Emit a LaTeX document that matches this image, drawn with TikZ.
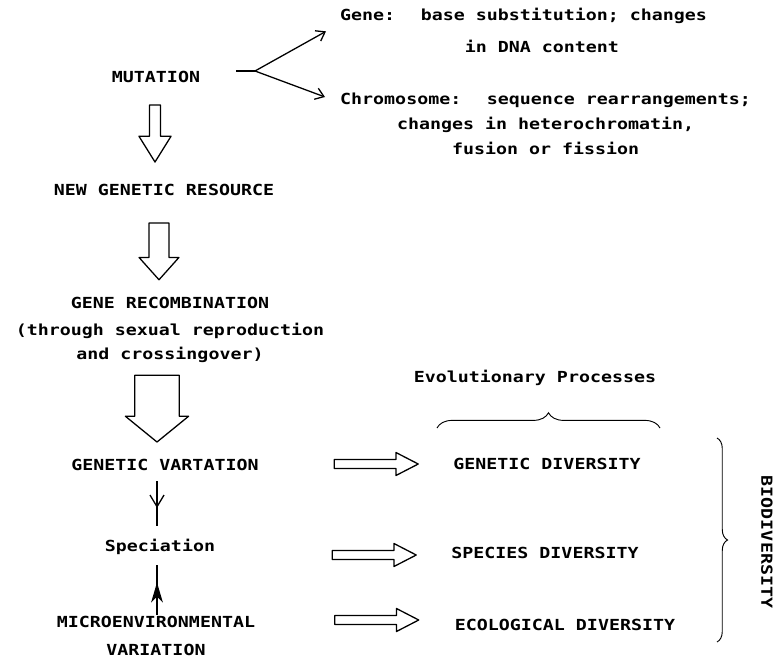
\documentclass[tikz,border=0pt]{standalone}
\usepackage{fontspec}
\newfontfamily\typefont[FakeStretch=1.2]{DejaVu Sans Mono}
\usetikzlibrary{arrows.meta, calc, decorations.pathreplacing, decorations.markings}

\tikzset{
    txt/.style={font={\typefont\bfseries\fontsize{13}{21}\selectfont}, inner sep=0pt},
    fork/.style={line width=1.1pt, -{Straight Barb[length=7pt, width=10pt]}},
    hollow/.style={line width=1.1pt, line join=round},
    curly/.style={line width=0.8pt, decorate, decoration={brace, amplitude=#1}},
    midhead/.style 2 args={line width=1.1pt, postaction={decorate},
        decoration={markings, mark=at position #1 with {\arrow{#2}}}}
}

% hollow block arrow: from, to, half shaft, half head, head length
\newcommand\hollowarrow[5]{
    \coordinate (hb) at ($(#2)!#5!(#1)$);
    \draw[hollow] ($(#1)!#3!90:(#2)$) -- ($(hb)!#3!90:(#2)$) -- ($(hb)!#4!90:(#2)$)
        -- (#2) -- ($(hb)!#4!-90:(#2)$) -- ($(hb)!#3!-90:(#2)$) -- ($(#1)!#3!-90:(#2)$) -- cycle;
}

\begin{document}
\begin{tikzpicture}[x=0.03cm, y=-0.03cm]
    \useasboundingbox (0,0) rectangle (777,665);

    % Mutation
    \node[txt] (mut) at (156,77) {MUTATION};
    \node[txt, align=left, anchor=north west] (gene) at (340,8)
        {Gene:~ base substitution; changes\\[6pt]\hphantom{Gene:~ base}in DNA content};
    \node[txt, align=center, anchor=north west] (chrom) at (340,93)
        {Chromosome:~ sequence rearrangements;\\changes in heterochromatin,\\fusion or fission};
    \coordinate (fk) at (255,71);
    \draw[line width=1.1pt] ($(mut.east)+(36,-6)$) -- (fk);
    \draw[fork] (fk) -- ($(gene.west)+(-14,1)$);
    \draw[fork] (fk) -- ($(chrom.north west)+(-15,4)$);

    % Left column
    \node[txt] (ngr) at (164,190) {NEW GENETIC RESOURCE};
    \node[txt, align=center] (grec) at (170,330)
        {GENE RECOMBINATION\\[2pt](through sexual reproduction\\and crossingover)};
    \node[txt] (gv) at (165,465) {GENETIC VARTATION};
    \node[txt] (spec) at (160,547) {Speciation};
    \node[txt, align=center] (micro) at (156,636) {MICROENVIRONMENTAL\\[3pt]VARIATION};

    % Hollow arrows down
    \coordinate (a1) at ($(mut.south)+(-1,22)$);
    \coordinate (a1e) at ($(ngr.north)+(0,-22)$);
    \hollowarrow{a1}{a1 |- a1e}{4.7pt}{13.7pt}{22pt}
    \coordinate (a2) at ($(ngr.south)+(-5,27)$);
    \coordinate (a2e) at ($(grec.north)+(0,-17)$);
    \hollowarrow{a2}{a2 |- a2e}{8.5pt}{17pt}{19pt}
    \coordinate (a3) at ($(grec.south)+(-13,12)$);
    \coordinate (a3e) at ($(gv.north)+(0,-17)$);
    \hollowarrow{a3}{a3 |- a3e}{19pt}{27pt}{22pt}

    % Into and out of speciation
    \draw[midhead={0.6}{Straight Barb[length=10pt, width=12pt]}]
        ($(gv.south)+(-8,10)$) -- ($(spec.north)+(-3,-13)$);
    \draw[midhead={0.65}{Stealth[length=17pt, width=10pt, inset=5pt]}]
        ($(micro.north)+(1,-1)$) -- ($(spec.south)+(-3,10)$);

    % Diversity
    \node[txt] (evo) at (535,378) {Evolutionary Processes};
    \node[txt] (gdiv) at (547,464) {GENETIC DIVERSITY};
    \node[txt] (sdiv) at (545,553) {SPECIES DIVERSITY};
    \node[txt] (ediv) at (565,625) {ECOLOGICAL DIVERSITY};
    \node[txt, rotate=-90] (bio) at (767,542) {BIODIVERSITY};

    % Hollow arrows right
    \hollowarrow{$(gdiv.west)+(-119,0)$}{$(gdiv.west)+(-35,0)$}{3.8pt}{9.8pt}{19pt}
    \hollowarrow{$(sdiv.west)+(-119,2)$}{$(sdiv.west)+(-35,2)$}{3.8pt}{9.8pt}{19pt}
    \hollowarrow{$(ediv.west)+(-120,-5)$}{$(ediv.west)+(-36,-5)$}{3.8pt}{9.8pt}{19pt}

    % Braces
    \draw[curly=13pt] (437,428) -- (660,428);
    \draw[curly=9pt] (717,438) -- (717,642);
\end{tikzpicture}
\end{document}
